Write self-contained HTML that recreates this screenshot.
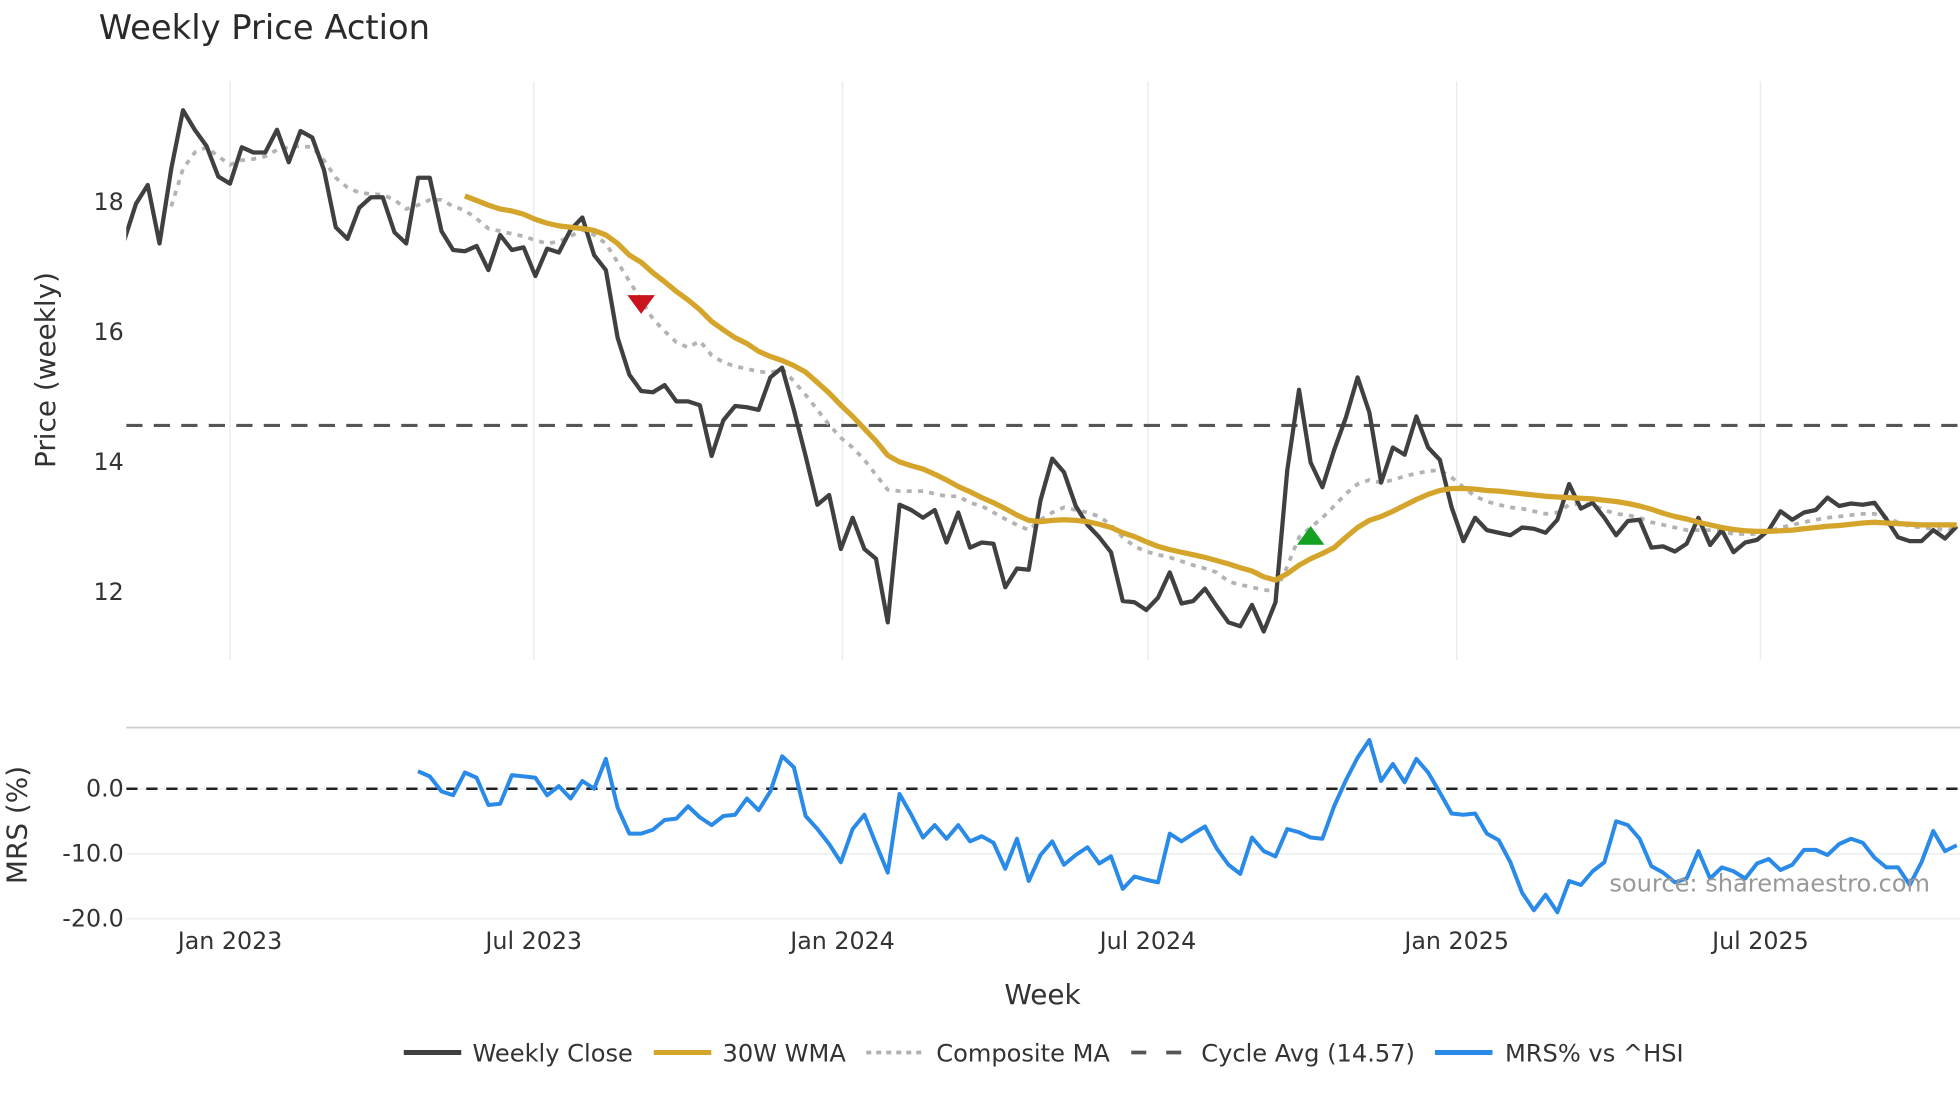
<!DOCTYPE html>
<html><head><meta charset="utf-8"><title>Weekly Price Action</title>
<style>
html,body{margin:0;padding:0;background:#fff;}
svg{display:block;font-family:"DejaVu Sans","Liberation Sans",sans-serif;}
</style></head>
<body>
<svg id="chart" width="1960" height="1102" viewBox="0 0 1568 881.6" xmlns="http://www.w3.org/2000/svg">
<rect x="0" y="0" width="1568" height="882" fill="#fff"/>
<text x="79" y="31" font-size="27" fill="#2a2a2a">Weekly Price Action</text>
<g id="grid"></g>
<g id="price"></g>
<g id="mrs"></g>
<text transform="translate(44,296) rotate(-90)" text-anchor="middle" font-size="22.3" fill="#333">Price (weekly)</text>
<text transform="translate(21,660) rotate(-90)" text-anchor="middle" font-size="22.3" fill="#333">MRS (%)</text>
<text x="834" y="803" text-anchor="middle" font-size="22.3" fill="#333">Week</text>
<text x="1544" y="713" text-anchor="end" font-size="19.3" fill="#999">source: sharemaestro.com</text>
<g font-size="19.3" fill="#333">
 <g><line x1="323" y1="842" x2="369" y2="842" stroke="#404040" stroke-width="4"/><text x="378" y="849">Weekly Close</text></g>
 <g><line x1="523" y1="842" x2="569" y2="842" stroke="#d4a52a" stroke-width="4"/><text x="578" y="849">30W WMA</text></g>
 <g><line x1="693" y1="842" x2="739" y2="842" stroke="#b0b0b0" stroke-width="3" stroke-dasharray="4,4"/><text x="749" y="849">Composite MA</text></g>
 <g><line x1="905" y1="842" x2="951" y2="842" stroke="#555" stroke-width="3" stroke-dasharray="12,16"/><text x="961" y="849">Cycle Avg (14.57)</text></g>
 <g><line x1="1148" y1="842" x2="1194" y2="842" stroke="#2a8ae8" stroke-width="4"/><text x="1204" y="849">MRS% vs ^HSI</text></g>
</g>
</svg>
<script>
const closeValues=[17.42,17.98,18.27,17.37,18.52,19.42,19.12,18.87,18.40,18.29,
18.85,18.77,18.77,19.12,18.62,19.10,19.00,18.50,17.62,17.44,
17.92,18.08,18.08,17.54,17.37,18.38,18.38,17.56,17.27,17.25,
17.33,16.96,17.50,17.27,17.31,16.87,17.29,17.23,17.58,17.77,
17.19,16.96,15.92,15.35,15.10,15.08,15.19,14.94,14.94,14.88,
14.10,14.65,14.87,14.85,14.81,15.31,15.46,14.81,14.10,13.35,
13.50,12.67,13.15,12.67,12.52,11.54,13.35,13.27,13.15,13.27,
12.77,13.23,12.69,12.77,12.75,12.08,12.37,12.35,13.42,14.06,
13.85,13.33,13.04,12.85,12.62,11.87,11.85,11.73,11.92,12.31,
11.83,11.87,12.06,11.79,11.54,11.48,11.81,11.40,11.85,13.88,
15.12,14.00,13.62,14.19,14.69,15.31,14.77,13.69,14.23,14.12,
14.71,14.23,14.04,13.31,12.79,13.15,12.96,12.92,12.88,13.00,
12.98,12.92,13.12,13.67,13.29,13.38,13.15,12.88,13.10,13.12,
12.69,12.71,12.63,12.75,13.15,12.73,12.96,12.62,12.77,12.81,
12.96,13.25,13.12,13.23,13.27,13.46,13.33,13.37,13.35,13.38,
13.13,12.85,12.79,12.79,12.96,12.83,13.02];
const wmaStart=29;
const wmaValues=[18.10,18.03,17.96,17.90,17.87,17.82,17.74,17.68,17.64,17.62,
17.60,17.57,17.50,17.37,17.19,17.08,16.92,16.78,16.63,16.50,
16.35,16.17,16.04,15.92,15.83,15.71,15.63,15.57,15.49,15.39,
15.23,15.07,14.88,14.71,14.52,14.33,14.11,14.01,13.95,13.90,
13.82,13.73,13.63,13.55,13.46,13.38,13.29,13.19,13.11,13.09,
13.11,13.12,13.11,13.09,13.05,13.00,12.92,12.86,12.78,12.71,
12.66,12.62,12.58,12.54,12.49,12.44,12.38,12.33,12.24,12.19,
12.29,12.42,12.52,12.60,12.69,12.85,13.00,13.11,13.17,13.25,
13.34,13.43,13.51,13.57,13.60,13.60,13.59,13.57,13.56,13.54,
13.52,13.50,13.48,13.47,13.46,13.45,13.44,13.42,13.40,13.37,
13.33,13.28,13.22,13.17,13.13,13.08,13.04,13.00,12.97,12.95,
12.94,12.94,12.95,12.96,12.98,13.00,13.02,13.03,13.05,13.07,
13.08,13.07,13.06,13.05,13.04,13.04,13.04,13.04];
const compStart=4;
const compValues=[17.94,18.52,18.77,18.85,18.71,18.58,18.65,18.67,18.71,18.81,
18.85,18.87,18.85,18.65,18.38,18.23,18.15,18.13,18.12,18.04,
17.90,17.96,18.04,18.04,17.94,17.88,17.75,17.60,17.56,17.52,
17.48,17.42,17.37,17.40,17.48,17.58,17.50,17.37,17.08,16.79,
16.50,16.21,16.02,15.85,15.77,15.87,15.65,15.54,15.48,15.44,
15.40,15.38,15.44,15.25,15.04,14.81,14.58,14.38,14.23,14.04,
13.81,13.58,13.56,13.56,13.56,13.52,13.48,13.48,13.38,13.33,
13.23,13.13,13.04,12.96,13.12,13.23,13.31,13.27,13.23,13.17,
13.04,12.85,12.71,12.63,12.58,12.54,12.48,12.42,12.37,12.31,
12.17,12.12,12.08,12.04,12.02,12.40,12.85,13.00,13.15,13.33,
13.52,13.67,13.73,13.69,13.73,13.79,13.83,13.87,13.88,13.77,
13.62,13.48,13.40,13.35,13.31,13.29,13.25,13.21,13.23,13.35,
13.37,13.35,13.27,13.21,13.19,13.15,13.08,13.04,13.00,12.96,
12.96,12.96,12.94,12.90,12.90,12.90,12.94,13.00,13.04,13.08,
13.12,13.15,13.17,13.19,13.21,13.21,13.15,13.08,13.02,13.00,
12.98,12.96,12.98];
const mrsStart=25;
const mrsValues=[2.7,1.9,-0.4,-1.0,2.5,1.7,-2.5,-2.3,2.1,1.9,
1.7,-1.0,0.4,-1.5,1.2,0.0,4.6,-2.9,-6.9,-6.9,
-6.3,-4.8,-4.6,-2.7,-4.4,-5.6,-4.2,-4.0,-1.5,-3.3,
-0.4,5.0,3.3,-4.2,-6.2,-8.5,-11.3,-6.2,-4.0,-8.5,
-12.9,-0.8,-4.0,-7.5,-5.6,-7.7,-5.6,-8.1,-7.3,-8.3,
-12.3,-7.7,-14.2,-10.2,-8.1,-11.7,-10.2,-9.0,-11.5,-10.4,
-15.4,-13.5,-14.0,-14.4,-6.9,-8.1,-6.9,-5.8,-9.2,-11.7,
-13.1,-7.5,-9.6,-10.4,-6.2,-6.7,-7.5,-7.7,-2.7,1.3,
4.8,7.5,1.2,3.8,1.0,4.6,2.5,-0.6,-3.8,-4.0,
-3.8,-6.9,-7.9,-11.3,-16.0,-18.7,-16.3,-19.0,-14.2,-14.8,
-12.7,-11.3,-5.0,-5.6,-7.7,-11.9,-12.9,-14.4,-13.8,-9.6,
-13.8,-12.1,-12.7,-13.8,-11.5,-10.8,-12.5,-11.7,-9.4,-9.4,
-10.2,-8.5,-7.7,-8.3,-10.6,-12.1,-12.1,-14.8,-11.3,-6.5,
-9.6,-8.7];
const cycleAvg=14.57;
const sellSignal={week:44,value:16.44};
const buySignal={week:101,value:12.87};
const priceTicks=[12,14,16,18];
const mrsTicks=[0,-10,-20];
const xTickLabels=["Jan 2023","Jul 2023","Jan 2024","Jul 2024","Jan 2025","Jul 2025"];
const xTickDates=["2023-01-01","2023-07-01","2024-01-01","2024-07-01","2025-01-01","2025-07-01"];
const startDate="2022-10-30";

const NS="http://www.w3.org/2000/svg";
const DAY=86400000;
const t0=Date.parse("2023-01-01");
function xDate(ms){return 184+(ms-t0)/DAY*(490/365);}
function xWeek(i){return xDate(Date.parse(startDate)+i*7*DAY);}
function yPrice(v){return 162+(18-v)*52;}
function yMrs(v){return 631-v*5.2;}
function mk(tag,attrs,parent){const e=document.createElementNS(NS,tag);for(const k in attrs)e.setAttribute(k,attrs[k]);parent.appendChild(e);return e;}
const grid=document.getElementById('grid'),price=document.getElementById('price'),mrs=document.getElementById('mrs');

const defs=mk('defs',{},document.getElementById('chart'));
const cp=mk('clipPath',{id:'pc'},defs);mk('rect',{x:101,y:60,width:1467,height:470},cp);
const cm=mk('clipPath',{id:'mc'},defs);mk('rect',{x:101,y:585,width:1467,height:160},cm);
price.setAttribute('clip-path','url(#pc)');
mrs.setAttribute('clip-path','url(#mc)');

xTickDates.forEach((d,k)=>{
 const x=xDate(Date.parse(d));
 const g=mk('line',{x1:x,y1:65,x2:x,y2:528,stroke:'#e8edf3','stroke-width':1.2},grid);
 
 
 const t=mk('text',{x:x,y:759,'text-anchor':'middle','font-size':19,fill:'#333'},grid);
 t.textContent=xTickLabels[k];
 
 
});
priceTicks.forEach(v=>{
 const t=mk('text',{x:99,y:yPrice(v)+6,'text-anchor':'end','font-size':19,fill:'#333'},grid);
 t.textContent=String(v);
 
 
});
const sep=mk('line',{x1:101,y1:582,x2:1568,y2:582,stroke:'#cfcfcf','stroke-width':1.5},grid);


mrsTicks.forEach(v=>{
 const l=mk('line',{x1:101,y1:yMrs(v),x2:1568,y2:yMrs(v),stroke:'#edf0f3','stroke-width':1.5},grid);
 
 
 const t=mk('text',{x:99,y:yMrs(v)+6,'text-anchor':'end','font-size':19,fill:'#333'},grid);
 t.textContent=v.toFixed(1);
 
 
});

function pathFrom(vals,start,yf){return vals.map((v,k)=>(k?'L':'M')+xWeek(start+k).toFixed(1)+','+yf(v).toFixed(1)).join(' ');}

const cyc=mk('line',{x1:101,y1:yPrice(cycleAvg),x2:1568,y2:yPrice(cycleAvg),stroke:'#555','stroke-width':2.5,'stroke-dasharray':'13,9'},price);


const comp=mk('path',{d:pathFrom(compValues,compStart,yPrice),fill:'none',stroke:'#b3b3b3','stroke-width':3,'stroke-dasharray':'4,5'},price);


const cl=mk('path',{d:pathFrom(closeValues,0,yPrice),fill:'none',stroke:'#404040','stroke-width':3.4,'stroke-linejoin':'round'},price);


const wma=mk('path',{d:pathFrom(wmaValues,wmaStart,yPrice),fill:'none',stroke:'#d4a52a','stroke-width':4.2,'stroke-linejoin':'round'},price);


{const x=xWeek(sellSignal.week),y=yPrice(sellSignal.value);
 const s=mk('polygon',{points:`${x-11},${y-7} ${x+11},${y-7} ${x},${y+8}`,fill:'#c8141c'},price);
 
 }
{const x=xWeek(buySignal.week),y=yPrice(buySignal.value);
 const b=mk('polygon',{points:`${x-11},${y+7} ${x+11},${y+7} ${x},${y-8}`,fill:'#14a020'},price);
 
 }

const zero=mk('line',{x1:101,y1:yMrs(0),x2:1568,y2:yMrs(0),stroke:'#222','stroke-width':2,'stroke-dasharray':'9,7'},mrs);


const ml=mk('path',{d:pathFrom(mrsValues,mrsStart,yMrs),fill:'none',stroke:'#2a8ae8','stroke-width':3.2,'stroke-linejoin':'round'},mrs);


</script>
</body></html>
